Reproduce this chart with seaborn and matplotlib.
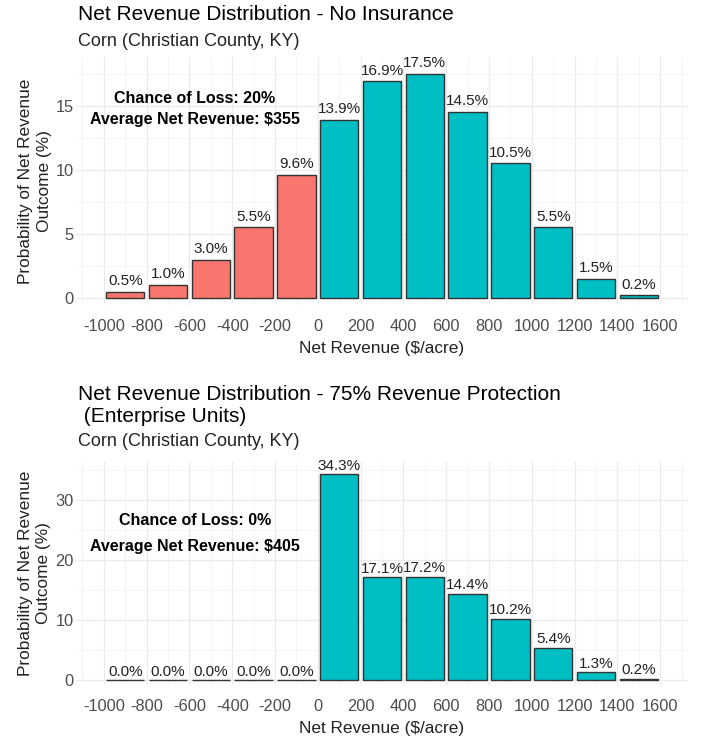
import matplotlib
matplotlib.use("Agg")
import matplotlib.pyplot as plt
import seaborn as sns
import numpy as np
import pandas as pd

# ---- data ----
bin_centers = [-900, -700, -500, -300, -100, 100, 300, 500, 700, 900, 1100, 1300, 1500]
no_ins_pct = [0.5, 1.0, 3.0, 5.5, 9.6, 13.9, 16.9, 17.5, 14.5, 10.5, 5.5, 1.5, 0.2]
rp75_pct = [0.0, 0.0, 0.0, 0.0, 0.0, 34.3, 17.1, 17.2, 14.4, 10.2, 5.4, 1.3, 0.2]
x_ticks = [-1000, -800, -600, -400, -200, 0, 200, 400, 600, 800, 1000, 1200, 1400, 1600]

title1_lines = ["Net Revenue Distribution - No Insurance"]
title2_lines = ["Net Revenue Distribution - 75% Revenue Protection", " (Enterprise Units)"]
subtitle = "Corn (Christian County, KY)"
note1_lines = ["Chance of Loss: 20%", "Average Net Revenue: $355"]
note2_lines = ["Chance of Loss: 0%", "Average Net Revenue: $405"]

sns.set_theme(style="white")
plt.rcParams['font.family'] = ['Liberation Sans', 'DejaVu Sans']

W, H = 706, 740
fig = plt.figure(figsize=(W / 100, H / 100), dpi=100)

def px_axes(l, t, r, b):
    return fig.add_axes([l / W, 1 - b / H, (r - l) / W, (b - t) / H])

SALMON = "#F8766D"
TEAL = "#00BFC4"

def draw(ax, vals, ylim, yticks, yminor, note_lines, note_ys, off):
    df = pd.DataFrame({"x": bin_centers, "y": vals,
                       "grp": ["loss" if c < 0 else "gain" for c in bin_centers]})
    sns.barplot(data=df, x="x", y="y", hue="grp", native_scale=True, width=0.9,
                palette={"loss": SALMON, "gain": TEAL}, saturation=1,
                edgecolor="#333333", linewidth=1.0, legend=False, ax=ax, zorder=3)
    for xc, v in zip(bin_centers, vals):
        ax.text(xc, v + off, f"{v:.1f}%", ha="center", va="bottom",
                fontsize=11, color="#222222", zorder=4)
    ax.set_xticks(x_ticks)
    ax.set_xticklabels([str(t) for t in x_ticks])
    ax.set_xticks(np.arange(-1100, 1800, 200), minor=True)
    ax.set_yticks(yticks)
    ax.set_yticks(yminor, minor=True)
    ax.set_xlim(-1130, 1730)
    ax.set_ylim(*ylim)
    ax.grid(True, which="major", color="#EBEBEB", lw=1.0, zorder=0)
    ax.grid(True, which="minor", color="#F2F2F2", lw=0.6, zorder=0)
    ax.set_axisbelow(True)
    for s in ax.spines.values():
        s.set_visible(False)
    ax.tick_params(axis="both", which="both", length=0, labelsize=11.8,
                   labelcolor="#4D4D4D")
    ax.tick_params(axis="x", pad=10)
    ax.tick_params(axis="y", pad=1.5)
    ax.set_xlabel("Net Revenue ($/acre)", fontsize=12.4, color="#222222", labelpad=5)
    ax.set_ylabel("Probability of Net Revenue\nOutcome (%)", fontsize=12.4,
                  color="#222222", labelpad=3, linespacing=1.3)
    for line, yy in zip(note_lines, note_ys):
        ax.text(-575, yy, line, ha="center", va="center", fontsize=11.5,
                fontweight="bold", color="black", zorder=4)

ax1 = px_axes(76, 57, 688, 305)
draw(ax1, no_ins_pct, (-0.55, 18.8), [0, 5, 10, 15], [2.5, 7.5, 12.5, 17.5],
     note1_lines, [15.55, 13.9], 0.3)

ax2 = px_axes(76, 462, 688, 685)
draw(ax2, rp75_pct, (-0.83, 36.3), [0, 10, 20, 30], [5, 15, 25, 35],
     note2_lines, [26.5, 22.3], 0.25)

def title_block(lines, y0, gap=22):
    for i, line in enumerate(lines):
        fig.text(78 / W, 1 - (y0 + i * gap) / H, line, fontsize=15, ha="left",
                 va="center", color="black")

title_block(title1_lines, 14)
fig.text(78 / W, 1 - 42 / H, subtitle, fontsize=13, ha="left", va="center", color="#222222")
title_block(title2_lines, 395)
fig.text(78 / W, 1 - 442 / H, subtitle, fontsize=13, ha="left", va="center", color="#222222")

fig.savefig("out.png", dpi=100)
